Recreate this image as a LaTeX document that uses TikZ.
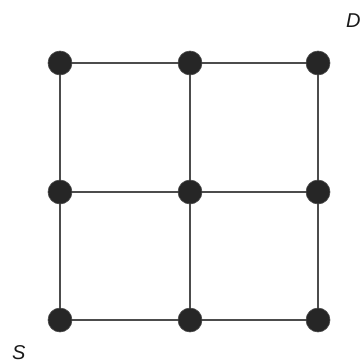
\documentclass[tikz,border=0pt]{standalone}
\usepackage{fontspec}
\setsansfont{Liberation Sans}
\begin{document}
\begin{tikzpicture}[x=1pt,y=-1pt,
  dot/.style={circle,fill=black!85,draw=black!70,line width=0.6pt,minimum size=24pt,inner sep=0pt},
  edge/.style={draw=black!70,line width=1.1pt},
  lab/.style={font=\sffamily\itshape\fontsize{20}{20}\selectfont,inner sep=0pt,text=black!90}]
\useasboundingbox (0,0) rectangle (361,364);
\foreach \c/\x in {1/60,2/190,3/318}{
  \foreach \r/\y in {1/63,2/192,3/320}{
    \coordinate (p\c\r) at (\x,\y);
  }
}
\draw[edge] (p11) -- (p31) (p12) -- (p32) (p13) -- (p33)
            (p11) -- (p13) (p21) -- (p23) (p31) -- (p33);
\foreach \c in {1,2,3}{\foreach \r in {1,2,3}{\node[dot] (n\c\r) at (p\c\r) {};}}
\node[lab,anchor=north west] (D) at (346,14) {D};
\node[lab,anchor=north west] (S) at (12,345) {S};
\end{tikzpicture}
\end{document}
